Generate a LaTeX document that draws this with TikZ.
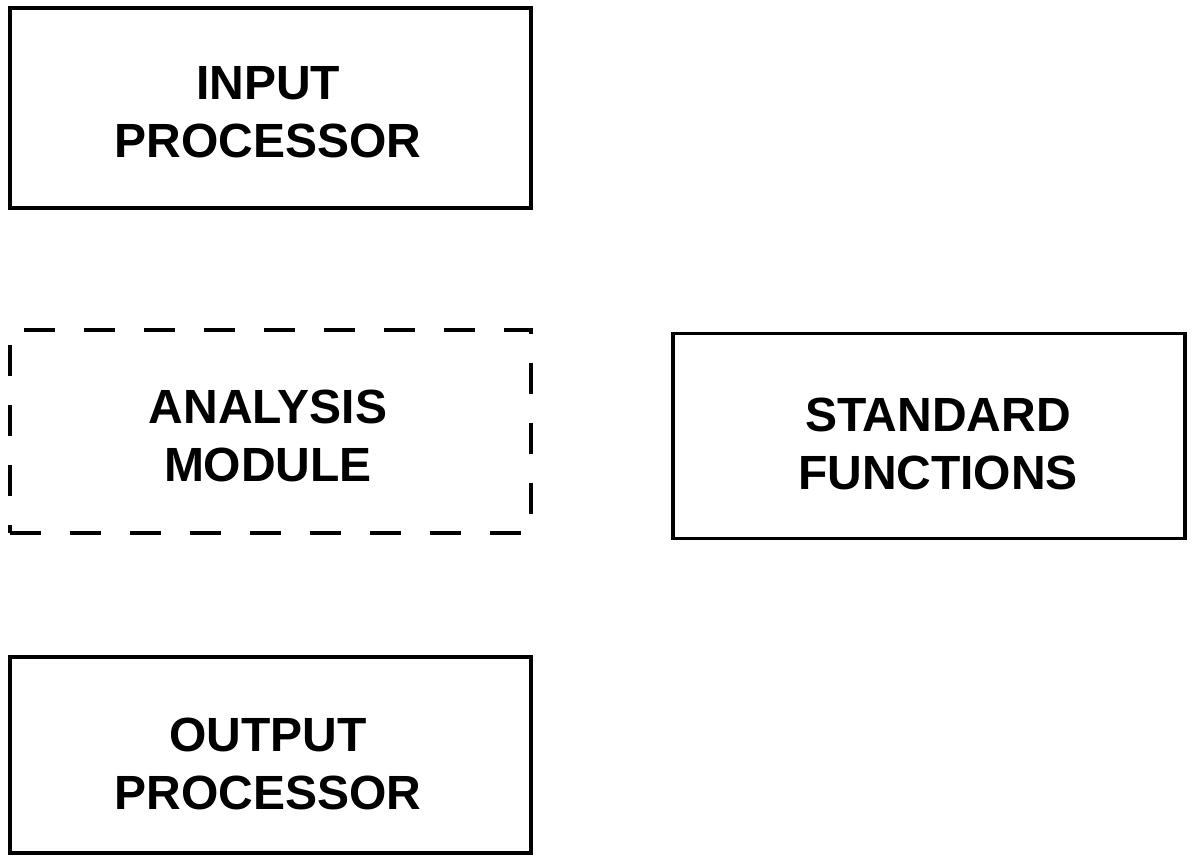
\documentclass[tikz,border=0pt]{standalone}
\usepackage{fontspec}
\setmainfont{Liberation Sans}
\begin{document}
\begin{tikzpicture}[x=1pt,y=-1pt,
  box/.style={draw=black,line width=3.6pt,rectangle,inner sep=0pt},
  dbox/.style={box,dash pattern=on 31pt off 29pt},
  lbl/.style={align=center,font=\fontsize{48}{58}\selectfont\bfseries,inner sep=0pt}]
\useasboundingbox[fill=white] (0,0) rectangle (1192,856);
\node[box,minimum width=521pt,minimum height=200pt] (inp) at (270.5,108) {};
\node[dbox,minimum width=521pt,minimum height=203pt] (ana) at (270.5,431.5) {};
\node[box,minimum width=512pt,minimum height=205pt] (std) at (929,436) {};
\node[box,minimum width=521pt,minimum height=196pt] (out) at (270.5,755) {};
\node[lbl] (inpt) at (268,112) {INPUT\\PROCESSOR};
\node[lbl] (anat) at (268,436) {ANALYSIS\\MODULE};
\node[lbl] (stdt) at (938,444) {STANDARD\\FUNCTIONS};
\node[lbl] (outt) at (268,764) {OUTPUT\\PROCESSOR};
\end{tikzpicture}
\end{document}
